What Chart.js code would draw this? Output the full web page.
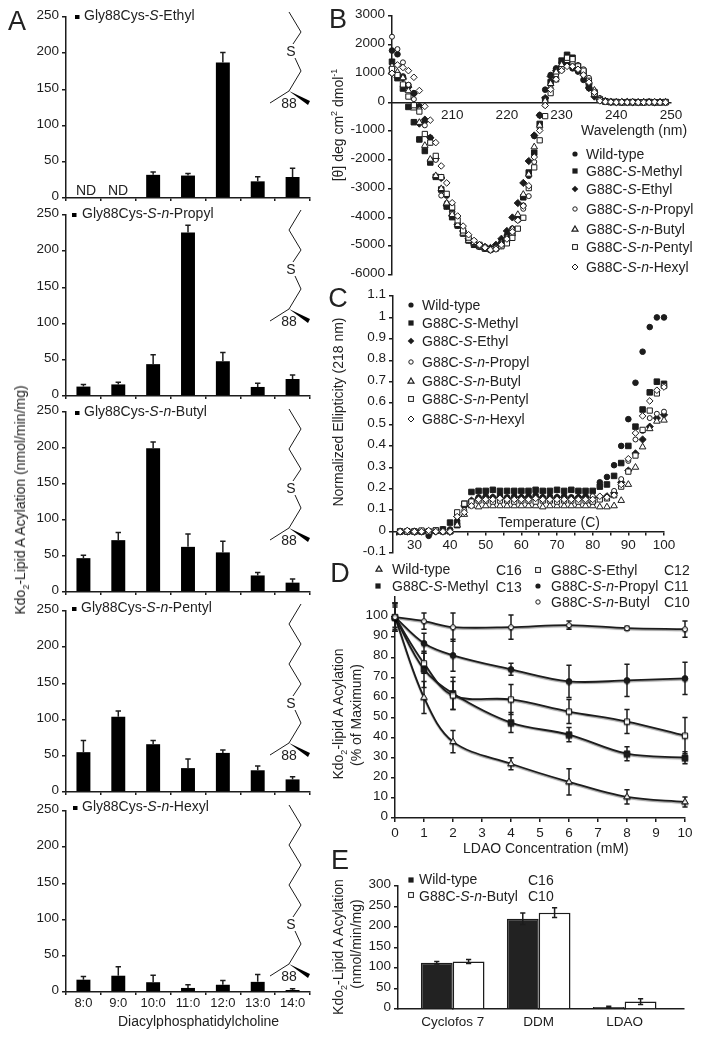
<!DOCTYPE html>
<html>
<head>
<meta charset="utf-8">
<style>
html, body { margin: 0; padding: 0; background: #fff; }
body { position: relative; width: 706px; height: 1038px; overflow: hidden; font-family: "Liberation Sans", sans-serif; color: #222; }
canvas { position: absolute; }
svg { position: absolute; left: 0; top: 0; }
.t { position: absolute; white-space: nowrap; font-size: 14px; line-height: 1; transform: translateY(-50%); }
.r { position: absolute; white-space: nowrap; font-size: 14px; line-height: 1; transform: translate(-50%, -50%) rotate(-90deg); }
.big { font-size: 27px; transform: translate(-50%, -50%); }
sub, sup { font-size: 9px; line-height: 0; }
</style>
<script src="https://cdn.jsdelivr.net/npm/chart.js@4"></script>
</head>
<body>
<script>
// panel A: lipid tail length
var lipids = ['8:0', '9:0', '10:0', '11:0', '12:0', '13:0', '14:0'];
var ethylVals = [null, null, 32, 31, 187, 23, 29];
var ethylErrs = [null, null, 4, 3, 14, 6.5, 12];
var propylVals = [13, 16, 44, 226, 48, 12.5, 23.5];
var propylErrs = [3, 3, 13, 10, 12, 5, 5.5];
var butylVals = [47, 72, 199.5, 62.7, 55, 23, 13];
var butylErrs = [4, 10.5, 9, 18, 15.6, 4, 5];
var pentylVals = [55, 104, 66, 33, 54, 30, 17.4];
var pentylErrs = [16, 8, 5, 12.5, 4, 6, 3.6];
var hexylVals = [17, 22.5, 13.5, 5.6, 10, 14, 2.8];
var hexylErrs = [4.4, 12.5, 9.5, 4.4, 6, 10, 1.7];
var aTicks = [0, 50, 100, 150, 200, 250];

// panel B: CD spectra
var nm = [199,200,201,202,203,204,205,206,207,208,209,210,211,212,213,214,215,216,217,218,219,220,221,222,223,224,225,226,227,228,229,230,231,232,233,234,235,236,237,238,239,240,241,242,243,244,245,246,247,248,249];
var bWild = [1800,1670,900,600,320,-140,-650,-1230,-1970,-2600,-3240,-3800,-4280,-4500,-4790,-4900,-5020,-5080,-5130,-5080,-4850,-4620,-4390,-3990,-3590,-2550,-1170,-450,440,950,1180,1360,1300,1180,1070,780,490,260,90,50,20,10,10,0,0,10,0,0,10,0,0];
var bMethyl = [1410,840,480,-160,-690,-1290,-1690,-2090,-2590,-3030,-3620,-3990,-4280,-4560,-4800,-4950,-5000,-5080,-5100,-5050,-4950,-4800,-4550,-4050,-3300,-2440,-1750,-750,100,700,1100,1450,1650,1550,1250,1050,600,350,100,30,10,10,0,0,10,0,0,10,0,0,10];
var bEthyl = [1010,870,840,530,300,-740,-600,-1230,-1950,-2630,-3590,-3930,-4250,-4470,-4740,-4910,-4970,-5020,-5060,-4950,-4740,-4470,-4000,-3500,-2800,-2040,-1150,-450,150,900,1100,1250,1300,1250,1100,950,500,200,80,30,10,0,10,10,0,0,0,10,0,0,10];
var bPropyl = [2280,1850,1390,610,110,-250,-800,-1400,-2000,-3240,-3500,-3850,-4200,-4500,-4780,-4900,-5000,-5080,-5150,-5100,-5000,-4850,-4600,-4100,-3700,-3260,-2070,-900,-100,500,950,1250,1500,1400,1300,1150,850,400,150,30,10,10,0,0,0,10,10,0,0,0,0];
var bButyl = [1250,1050,850,400,-200,-700,-1500,-1980,-2550,-3000,-3500,-3900,-4250,-4550,-4800,-4900,-5020,-5070,-5120,-5050,-4900,-4700,-4400,-3900,-3200,-2500,-1550,-800,50,650,1050,1300,1450,1400,1200,1000,700,420,120,40,10,0,0,10,0,0,10,0,0,10,0];
var bPentyl = [1160,950,620,200,-100,-320,-1100,-1400,-1860,-2600,-3180,-3650,-4100,-4450,-4700,-4850,-4950,-5050,-5100,-5080,-5000,-4900,-4710,-4390,-4010,-2980,-2260,-1320,-480,320,800,1150,1550,1500,1250,1100,750,300,80,20,10,10,0,10,0,0,0,10,0,0,0];
var bHexyl = [1010,1300,1210,1100,870,410,-140,-620,-1400,-2210,-2800,-3490,-3950,-4300,-4600,-4800,-4950,-5050,-5130,-5100,-4950,-4750,-4500,-4100,-3600,-2900,-1900,-980,-110,450,800,1100,1250,1250,1150,950,700,350,50,20,10,0,10,0,10,0,0,0,10,0,0];
var bXTicks = [210, 220, 230, 240, 250];
var bYTicks = [-6000, -5000, -4000, -3000, -2000, -1000, 0, 1000, 2000, 3000];

// panel C: thermal melts
var temps = [26,28,30,32,34,36,38,40,42,44,46,48,50,52,54,56,58,60,62,64,66,68,70,72,74,76,78,80,82,84,86,88,90,92,94,96,98,100];
var cWild = [0,0,0,0,-0.02,0,0.01,0.01,0.05,0.12,0.14,0.16,0.165,0.16,0.17,0.16,0.165,0.16,0.165,0.17,0.16,0.165,0.16,0.165,0.16,0.16,0.165,0.16,0.23,0.255,0.31,0.4,0.525,0.695,0.84,0.955,1,1];
var cMethyl = [0,0,0,0,0,0.005,0.01,0.042,0.03,0.13,0.185,0.19,0.19,0.195,0.19,0.19,0.19,0.19,0.19,0.195,0.19,0.19,0.195,0.19,0.195,0.19,0.19,0.19,0.21,0.22,0.26,0.32,0.4,0.49,0.57,0.65,0.7,0.69];
var cEthyl = [0,0,0,0,0,0,0,0,0.07,0.12,0.145,0.155,0.16,0.16,0.16,0.155,0.16,0.16,0.16,0.16,0.16,0.155,0.16,0.16,0.155,0.16,0.16,0.135,0.16,0.165,0.18,0.23,0.285,0.365,0.43,0.49,0.53,0.545];
var cPropyl = [0,0.005,0,0,0,0,0,0,0.08,0.1,0.13,0.15,0.15,0.145,0.15,0.15,0.145,0.15,0.15,0.15,0.15,0.15,0.145,0.15,0.15,0.15,0.15,0.165,0.16,0.16,0.19,0.245,0.33,0.43,0.47,0.53,0.55,0.56];
var cButyl = [0,0,0,0,0,0,0,0,0.03,0.08,0.12,0.115,0.12,0.12,0.12,0.12,0.12,0.12,0.12,0.12,0.115,0.12,0.12,0.12,0.12,0.12,0.12,0.12,0.115,0.115,0.12,0.145,0.22,0.3,0.395,0.48,0.515,0.52];
var cPentyl = [0,0,0,0.005,0,0.005,0,0,0.09,0.13,0.14,0.145,0.145,0.14,0.145,0.145,0.14,0.145,0.145,0.14,0.145,0.145,0.14,0.145,0.145,0.14,0.145,0.14,0.15,0.155,0.17,0.21,0.28,0.355,0.475,0.565,0.645,0.68];
var cHexyl = [0,0.005,0,0,0.005,0,0,0,0.07,0.09,0.12,0.15,0.15,0.15,0.155,0.15,0.15,0.15,0.15,0.155,0.15,0.15,0.15,0.15,0.15,0.15,0.15,0.15,0.165,0.16,0.17,0.22,0.34,0.46,0.54,0.61,0.66,0.675];
var cXTicks = [25, 30, 35, 40, 45, 50, 55, 60, 65, 70, 75, 80, 85, 90, 95, 100];
var cYTicks = [-0.1, 0, 0.1, 0.2, 0.3, 0.4, 0.5, 0.6, 0.7, 0.8, 0.9, 1, 1.1];

// panel D: LDAO titration
var ldao = [0, 1, 2, 4, 6, 8, 10];
var dWild = [100, 60, 38, 27, 18, 10.5, 8];
var dWildErr = [6, 8, 5.5, 3, 6.5, 3.5, 2.5];
var dMethyl = [100, 74, 62, 47.5, 41.5, 32, 30];
var dMethylErr = [7, 9, 8, 5, 3.5, 3.5, 3];
var dEthyl = [100, 77, 61, 59, 53, 48, 41];
var dEthylErr = [7, 5, 7, 7.5, 6, 6, 9];
var dPropyl = [100, 87, 81, 74, 68, 68.5, 69.5];
var dPropylErr = [7, 5, 8, 3, 8, 8, 8];
var dButyl = [100, 98, 95, 95, 96, 94.5, 94];
var dButylErr = [5, 4, 7, 6, 2, 1, 4];
var dXTicks = [0, 1, 2, 3, 4, 5, 6, 7, 8, 9, 10];
var dYTicks = [0, 10, 20, 30, 40, 50, 60, 70, 80, 90, 100];

// panel E: detergents
var detergents = ['Cyclofos 7', 'DDM', 'LDAO'];
var detPos = [0, 1, 2];
var eWild = [113, 220, 5];
var eWildErr = [3, 14, 1.5];
var eButyl = [116, 235, 18];
var eButylErr = [5, 12, 7];
var eYTicks = [0, 50, 100, 150, 200, 250, 300];

var ink = '#1c1c1c';
var tickFont = { family: '"Liberation Sans", sans-serif', size: 13.5 };

function pts(xs, ys) {
    return xs.map(function (x, i) { return { x: x, y: ys[i] }; });
}
function plain(v) { return String(v); }

// error bars, read from dataset.errs through the chart's own scales
var errPlugin = {
    id: 'errs',
    beforeDatasetsDraw: function (chart) { if (chart.options.plugins.errs.under) drawErrs(chart); },
    afterDatasetsDraw: function (chart) { if (!chart.options.plugins.errs.under) drawErrs(chart); }
};
function drawErrs(chart) {
    var o = chart.options.plugins.errs;
    var ctx = chart.ctx;
    ctx.save();
    ctx.strokeStyle = ink;
    ctx.lineWidth = o.width || 1.5;
    chart.data.datasets.forEach(function (ds, di) {
        if (!ds.errs) return;
        var meta = chart.getDatasetMeta(di);
        ds.errs.forEach(function (e, i) {
            if (e === null) return;
            var el = meta.data[i];
            var v = typeof ds.data[i] === 'object' ? ds.data[i].y : ds.data[i];
            var yScale = chart.scales.y;
            var hi = yScale.getPixelForValue(v + e);
            var lo = o.upOnly ? el.y : yScale.getPixelForValue(v - e);
            ctx.beginPath();
            ctx.moveTo(el.x, hi);
            ctx.lineTo(el.x, lo);
            ctx.moveTo(el.x - o.cap, hi);
            ctx.lineTo(el.x + o.cap, hi);
            if (!o.upOnly) {
                ctx.moveTo(el.x - o.cap, lo);
                ctx.lineTo(el.x + o.cap, lo);
            }
            ctx.stroke();
        });
    });
    ctx.restore();
}

// grey edge under the fitted lines of panel D
var halo = {
    id: 'halo',
    beforeDatasetDraw: function (chart) {
        chart.ctx.save();
        chart.ctx.shadowColor = 'rgba(0,0,0,0.4)';
        chart.ctx.shadowOffsetY = 1.2;
        chart.ctx.shadowBlur = 1;
    },
    afterDatasetDraw: function (chart) { chart.ctx.restore(); }
};

function axisBase(extra) {
    var a = {
        border: { display: true, color: ink, width: 1.5 },
        grid: { drawOnChartArea: false, drawTicks: true, tickLength: 4, color: ink, tickColor: ink, lineWidth: 1.5 },
        ticks: { color: ink, font: tickFont, padding: 3, autoSkip: false, maxRotation: 0, minRotation: 0, callback: plain }
    };
    for (var k in extra) {
        if (typeof extra[k] === 'object' && a[k] && !Array.isArray(extra[k])) Object.assign(a[k], extra[k]);
        else a[k] = extra[k];
    }
    return a;
}

// rect = where the plot area has to land on the page
function place(rect, config, floatingX) {
    var m = { l: 60, r: 30, t: 14, b: 30 };
    var c = document.createElement('canvas');
    c.width = rect.r - rect.l + m.l + m.r;
    c.height = rect.b - rect.t + m.t + m.b;
    c.style.left = (rect.l - m.l) + 'px';
    c.style.top = (rect.t - m.t) + 'px';
    c.style.width = c.width + 'px';
    c.style.height = c.height + 'px';
    document.body.appendChild(c);
    var o = config.options;
    o.responsive = false;
    o.animation = false;
    o.devicePixelRatio = 1;
    o.layout = { padding: { top: m.t, right: m.r, left: 0, bottom: floatingX ? m.b : 0 } };
    o.plugins = Object.assign({ legend: { display: false }, tooltip: { enabled: false } }, o.plugins || {});
    o.scales.y.afterFit = function (s) { s.width = m.l; };
    if (!floatingX) o.scales.x.afterFit = function (s) { s.height = m.b; };
    return new Chart(c, config);
}

function fixedTicks(list) {
    return function (s) { s.ticks = list.map(function (v) { return { value: v }; }); };
}

function aPanel(top, bottom, vals, errs, showX) {
    place({ l: 66, r: 310, t: top, b: bottom }, {
        type: 'bar',
        data: {
            labels: lipids,
            datasets: [{ data: vals, errs: errs, backgroundColor: '#000', barPercentage: 0.4, categoryPercentage: 1 }]
        },
        plugins: [errPlugin],
        options: {
            plugins: { errs: { upOnly: true, cap: 2.7 } },
            scales: {
                x: axisBase({
                    ticks: { display: showX, padding: 1, font: { family: tickFont.family, size: 13 }, callback: function (v) { return lipids[v]; } },
                    grid: { offset: true, tickLength: 3 }
                }),
                y: axisBase({ min: 0, max: 250, afterBuildTicks: fixedTicks(aTicks), ticks: { labelOffset: -1.5 } })
            }
        }
    });
}
aPanel(17, 198, ethylVals, ethylErrs, false);
aPanel(215, 396, propylVals, propylErrs, false);
aPanel(412, 592, butylVals, butylErrs, false);
aPanel(611, 792, pentylVals, pentylErrs, false);
aPanel(811, 992, hexylVals, hexylErrs, true);

// marker styles shared by panels B, C and D
function mk(style, filled, r) {
    return { pointStyle: style, pointRadius: r, pointBackgroundColor: filled ? ink : '#fff', pointBorderColor: ink, pointBorderWidth: 1, showLine: false, clip: false };
}
var markers = [mk('circle', true, 2.8), mk('rect', true, 3.9), mk('rectRot', true, 3.6), mk('circle', false, 2.5), mk('triangle', false, 3.8), mk('rect', false, 3.7), mk('rectRot', false, 3.3)];

function scatterSets(xs, series) {
    return series.map(function (ys, i) {
        return Object.assign({ data: pts(xs, ys), order: -i }, markers[i]);
    });
}

place({ l: 392, r: 671, t: 16, b: 275 }, {
    type: 'scatter',
    data: { datasets: scatterSets(nm, [bWild, bMethyl, bEthyl, bPropyl, bButyl, bPentyl, bHexyl]) },
    options: {
        scales: {
            x: axisBase({ min: 199, max: 250, position: { y: 0 }, afterBuildTicks: fixedTicks(bXTicks), grid: { tickLength: 0 }, ticks: { padding: 5 } }),
            y: axisBase({ min: -6000, max: 3000, afterBuildTicks: fixedTicks(bYTicks), ticks: { labelOffset: -1.5 } })
        }
    }
}, true);

place({ l: 393, r: 664, t: 296, b: 553 }, {
    type: 'scatter',
    data: { datasets: scatterSets(temps, [cWild, cMethyl, cEthyl, cPropyl, cButyl, cPentyl, cHexyl]) },
    options: {
        scales: {
            x: axisBase({
                min: 24, max: 100, position: { y: 0 },
                afterBuildTicks: fixedTicks(cXTicks),
                grid: { tickLength: 3 },
                // ticks every 5, labels every 10
                ticks: { padding: 3, callback: function (v) { return v % 10 === 0 ? String(v) : ''; } }
            }),
            y: axisBase({ min: -0.1, max: 1.1, afterBuildTicks: fixedTicks(cYTicks), ticks: { labelOffset: -1.5 } })
        }
    }
}, true);

function dSet(ys, errs, marker, order) {
    return Object.assign({}, marker, { data: pts(ldao, ys), errs: errs, order: order, showLine: true, borderColor: ink, borderWidth: 1.8, tension: 0.35 });
}
place({ l: 395, r: 685, t: 597, b: 818 }, {
    type: 'scatter',
    data: {
        datasets: [
            dSet(dWild, dWildErr, markers[4], 5),
            dSet(dMethyl, dMethylErr, markers[1], 4),
            dSet(dEthyl, dEthylErr, markers[5], 3),
            dSet(dPropyl, dPropylErr, markers[0], 2),
            dSet(dButyl, dButylErr, markers[3], 1)
        ]
    },
    plugins: [errPlugin, halo],
    options: {
        plugins: { errs: { under: true, cap: 2.6 } },
        scales: {
            x: axisBase({ min: 0, max: 10, afterBuildTicks: fixedTicks(dXTicks) }),
            y: axisBase({ min: 0, max: 110, afterBuildTicks: fixedTicks(dYTicks), ticks: { labelOffset: -1.5 } })
        }
    }
});

place({ l: 398, r: 684, t: 886, b: 1009 }, {
    type: 'bar',
    data: {
        datasets: [
            { data: pts(detPos, eWild), errs: eWildErr, backgroundColor: '#222', borderColor: ink, borderWidth: 1.5, barPercentage: 1, categoryPercentage: 0.74 },
            { data: pts(detPos, eButyl), errs: eButylErr, backgroundColor: '#fff', borderColor: ink, borderWidth: 1.5, barPercentage: 1, categoryPercentage: 0.74 }
        ]
    },
    plugins: [errPlugin],
    options: {
        plugins: { errs: { cap: 2.6 } },
        scales: {
            x: axisBase({
                type: 'linear', offset: false, min: -0.636, max: 2.69,
                afterBuildTicks: fixedTicks(detPos),
                grid: { offset: false, tickLength: 0 },
                ticks: { padding: 5, callback: function (v) { return detergents[v]; } }
            }),
            y: axisBase({ min: 0, max: 300, afterBuildTicks: fixedTicks(eYTicks), ticks: { labelOffset: -1.5 } })
        }
    }
});

// page text, all real text
function text(x, y, html, cls) {
    var d = document.createElement('div');
    d.className = cls || 't';
    d.style.left = x + 'px';
    d.style.top = y + 'px';
    d.innerHTML = html;
    document.body.appendChild(d);
}
text(17, 21, 'A', 'r big');
text(338, 19, 'B', 'r big');
text(338, 298, 'C', 'r big');
text(340, 573, 'D', 'r big');
text(340, 860, 'E', 'r big');

text(84, 15, 'Gly88Cys-<i>S</i>-Ethyl');
text(82, 213, 'Gly88Cys-<i>S</i>-<i>n</i>-Propyl');
text(84, 411, 'Gly88Cys-<i>S</i>-<i>n</i>-Butyl');
text(81, 607, 'Gly88Cys-<i>S</i>-<i>n</i>-Pentyl');
text(82, 806, 'Gly88Cys-<i>S</i>-<i>n</i>-Hexyl');
text(76, 190, 'ND');
text(108, 190, 'ND');
text(118, 1021, 'Diacylphosphatidylcholine');

text(20, 500, 'Kdo<sub>2</sub>-Lipid A Acylation (nmol/min/mg)', 'r');
text(338, 125, '[&theta;] deg cm<sup>2</sup> dmol<sup>-1</sup>', 'r');
text(338, 412, 'Normalized Ellipticity (218 nm)', 'r');
text(338, 714, 'Kdo<sub>2</sub>-lipid A Acylation', 'r');
text(356, 715, '(% of Maximum)', 'r');
text(338, 947, 'Kdo<sub>2</sub>-Lipid A Acylation', 'r');
text(356, 944, '(nmol/min/mg)', 'r');

text(581, 130, 'Wavelength (nm)');
text(498, 522, 'Temperature (C)');
text(463, 848, 'LDAO Concentration (mM)');

// legends: marker kind, marker x, text x, y, label
var variants = ['Wild-type', 'G88C-<i>S</i>-Methyl', 'G88C-<i>S</i>-Ethyl', 'G88C-<i>S</i>-<i>n</i>-Propyl', 'G88C-<i>S</i>-<i>n</i>-Butyl', 'G88C-<i>S</i>-<i>n</i>-Pentyl', 'G88C-<i>S</i>-<i>n</i>-Hexyl'];
var kinds = ['disc', 'box', 'dia', 'ring', 'tri', 'obox', 'odia'];
var bRows = [154, 171, 189, 209, 229, 247, 267];
var cRows = [305, 323, 341, 362, 381, 399, 419];
var svg = '';
function symbol(kind, x, y) {
    if (kind === 'disc') return '<circle cx="' + x + '" cy="' + y + '" r="2.6" fill="' + ink + '"/>';
    if (kind === 'ring') return '<circle cx="' + x + '" cy="' + y + '" r="2.2" fill="#fff" stroke="' + ink + '"/>';
    if (kind === 'box') return '<rect x="' + (x - 2.6) + '" y="' + (y - 2.6) + '" width="5.2" height="5.2" fill="' + ink + '"/>';
    if (kind === 'obox') return '<rect x="' + (x - 2.4) + '" y="' + (y - 2.4) + '" width="4.8" height="4.8" fill="#fff" stroke="' + ink + '"/>';
    if (kind === 'dia') return '<path d="M' + x + ' ' + (y - 3.3) + 'l3.3 3.3l-3.3 3.3l-3.3 -3.3z" fill="' + ink + '"/>';
    if (kind === 'odia') return '<path d="M' + x + ' ' + (y - 3) + 'l3 3l-3 3l-3 -3z" fill="#fff" stroke="' + ink + '"/>';
    return '<path d="M' + x + ' ' + (y - 3) + 'l3 5.2h-6z" fill="#fff" stroke="' + ink + '" stroke-width="1.2"/>';
}
variants.forEach(function (label, i) {
    svg += symbol(kinds[i], 575, bRows[i]);
    text(586, bRows[i], label);
    svg += symbol(kinds[i], 411, cRows[i]);
    text(422, cRows[i], label);
});
// panel D legend
svg += symbol('tri', 379, 569) + symbol('box', 378, 586) + symbol('obox', 538, 570) + symbol('disc', 538, 586) + symbol('ring', 538, 602);
text(392, 569, variants[0]); text(496, 570, 'C16');
text(392, 586, variants[1]); text(496, 587, 'C13');
text(551, 570, variants[2]); text(664, 570, 'C12');
text(551, 586, variants[3]); text(664, 586, 'C11');
text(551, 602, variants[4]); text(664, 602, 'C10');
// panel E legend
svg += symbol('box', 411, 880) + symbol('obox', 411, 895);
text(419, 879, variants[0]); text(528, 880, 'C16');
text(419, 896, variants[4]); text(528, 896, 'C10');
// small keys in panel A
[[77, 17], [74, 215], [77, 413], [74, 609], [75, 808]].forEach(function (p) {
    svg += '<rect x="' + (p[0] - 2) + '" y="' + (p[1] - 2) + '" width="4.5" height="4" fill="#000"/>';
});

// side chain drawings
function chain(b, extra) {
    var p = [[270, b + 12], [289, b], [301, b - 20], [295, b - 33]];
    svg += '<polyline points="' + p.join(' ') + '" fill="none" stroke="' + ink + '" stroke-width="1"/>';
    var q = [[293, b - 47], [301, b - 59]];
    for (var i = 1; i <= extra; i++) q.push([i % 2 ? 289 : 301, b - 59 - 20 * i]);
    svg += '<polyline points="' + q.join(' ') + '" fill="none" stroke="' + ink + '" stroke-width="1"/>';
    svg += '<path d="M289 ' + b + 'L310 ' + (b + 10) + 'L308 ' + (b + 14) + 'z" fill="#000"/>';
    svg += '<text x="291" y="' + (b - 35) + '" text-anchor="middle" font-size="14" font-family="Liberation Sans" fill="' + ink + '">S</text>';
    svg += '<text x="289" y="' + (b + 17) + '" text-anchor="middle" font-size="14" font-family="Liberation Sans" fill="' + ink + '">88</text>';
}
chain(91, 1);
chain(309, 2);
chain(528, 3);
chain(743, 4);
chain(964, 5);

var holder = document.createElement('div');
holder.innerHTML = '<svg width="706" height="1038" xmlns="http://www.w3.org/2000/svg">' + svg + '</svg>';
document.body.appendChild(holder);
</script>
</body>
</html>
